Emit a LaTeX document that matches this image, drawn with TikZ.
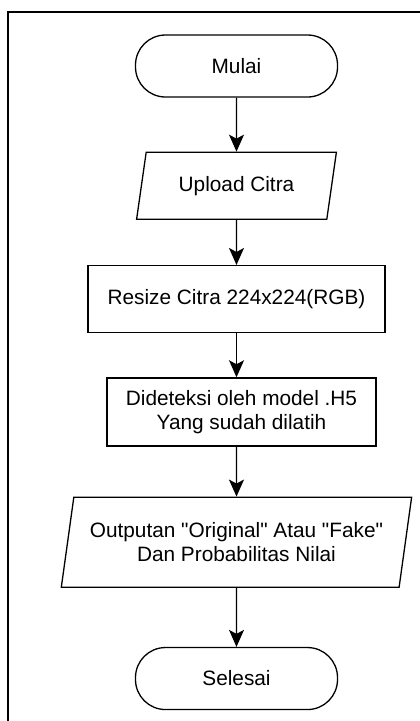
\documentclass[tikz,border=0pt]{standalone}
\usepackage{fontspec}
\setmainfont{Liberation Sans}
\usepackage{tikz}
\usetikzlibrary{arrows.meta,positioning,shapes.geometric}

\begin{document}
\begin{tikzpicture}[
  x=1pt,y=-1pt,
  node distance=45pt,
  every node/.style={font=\fontsize{20.8}{24.3}\selectfont},
  termbox/.style={draw,line width=1.3pt,rounded corners=30pt,minimum width=202pt,minimum height=62pt,align=center},
  iobox/.style={draw,line width=1.3pt,trapezium,trapezium left angle=76,trapezium right angle=104,trapezium stretches=true,align=center},
  procbox/.style={draw,line width=1.3pt,minimum height=67pt,align=center},
  arr/.style={-{Stealth[length=17pt,width=15pt,inset=4pt]},line width=1.3pt}
]
\useasboundingbox (0,0) rectangle (420,721);
% frame
\draw[line width=2pt] (7.5,721) -- (7.5,12) -- (420,12);

\node[termbox] (mulai) at (236.5,66) {Mulai};
\node[iobox,minimum width=200pt,minimum height=67pt,below=54pt of mulai] (upload) {Upload Citra};
\node[procbox,minimum width=297pt,below=of upload] (resize) {Resize Citra 224x224(RGB)};
\node[procbox,minimum width=269pt,minimum height=68pt,below=44pt of resize,xshift=5pt] (deteksi) {Dideteksi oleh model .H5\\Yang sudah dilatih};
\node[iobox,minimum width=352pt,minimum height=90pt,below=50pt of deteksi,xshift=-5pt] (output) {Outputan \textquotedbl Original\textquotedbl{} Atau \textquotedbl Fake\textquotedbl\\Dan Probabilitas Nilai};
\node[termbox,below=59pt of output] (selesai) {Selesai};

\draw[arr] (mulai) -- (upload);
\draw[arr] (upload) -- (resize);
\draw[arr] (resize) -- (resize |- deteksi.north);
\draw[arr] (deteksi.south -| output) -- (output);
\draw[arr] (output) -- (selesai);
\end{tikzpicture}
\end{document}
